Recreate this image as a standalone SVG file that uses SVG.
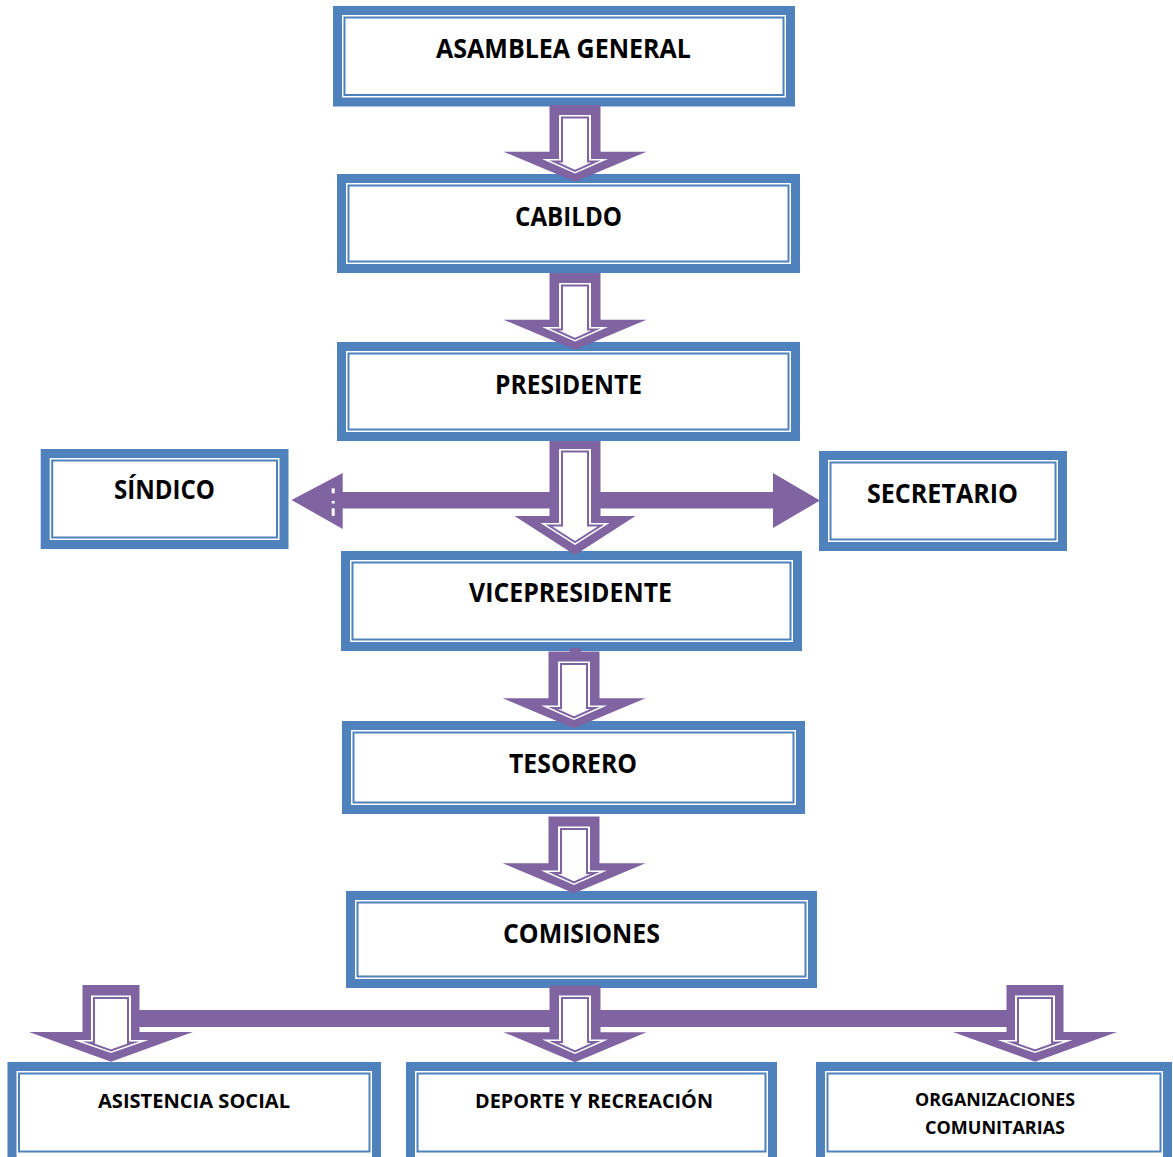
<svg xmlns="http://www.w3.org/2000/svg" xmlns:xlink="http://www.w3.org/1999/xlink" width="1173" height="1157" viewBox="0 0 1173 1157">
<style>
.ob{fill:#fff;stroke:#4F81BD;stroke-width:9}
.il{fill:none;stroke:#4F81BD;stroke-width:2}
.ap{fill:#8064A2}
.aw{fill:#fff}
.al{fill:#fff;stroke:#8064A2;stroke-width:2;stroke-miterlimit:10}
.t{font-family:"Open Sans","Liberation Sans",sans-serif;font-weight:700;fill:#000}
.big{font-size:26.5px}
.sm{font-size:19.5px}
.xs{font-size:18.5px}
</style>
<defs>
<g id="arrA">
<path class="ap" d="M-25.5,0 H25.5 V46.7 H71.5 L0,76.7 L-71.5,46.7 H-25.5 Z"/>
<path class="aw" d="M-16,10 H16 V54 H33 L0,68.5 L-33,54 H-16 Z"/>
<path class="al" d="M-13,12.5 H13 V56.5 H21 L0,65.8 L-21,56.5 H-13 Z"/>
</g>
<g id="arrB">
<path class="ap" d="M-25.5,0 H25.5 V75 H60.5 L0,114 L-60.5,75 H-25.5 Z"/>
<path class="aw" d="M-16,8 H16 V82 H34.5 L0,104 L-34.5,82 H-16 Z"/>
<path class="al" d="M-13,10.5 H13 V84.5 H26 L0,101 L-26,84.5 H-13 Z"/>
</g>
<g id="arrC">
<path class="ap" d="M-28.5,0 H28.5 V47 H82 L0,76.7 L-82,47 H-28.5 Z"/>
<path class="aw" d="M-20,10.5 H20 V55 H37.5 L0,68 L-37.5,55 H-20 Z"/>
<path class="al" d="M-17,13 H17 V57.5 H22.6 L0,65.4 L-22.6,57.5 H-17 Z"/>
</g>
</defs>
<rect width="1173" height="1157" fill="#fff"/>

<g id="asamblea">
<rect class="ob" x="337.5" y="10.5" width="453" height="91.5"/>
<rect class="il" x="344.5" y="17.5" width="439" height="77.5"/>
<text class="t big" x="436" y="57.5" textLength="255" lengthAdjust="spacingAndGlyphs">ASAMBLEA GENERAL</text>
</g>
<g id="cabildo">
<rect class="ob" x="341.5" y="178.5" width="454" height="90"/>
<rect class="il" x="348.5" y="185.5" width="440" height="76"/>
<text class="t big" x="515" y="226" textLength="107" lengthAdjust="spacingAndGlyphs">CABILDO</text>
</g>
<g id="presidente">
<rect class="ob" x="341.5" y="346.5" width="454" height="90"/>
<rect class="il" x="348.5" y="353.5" width="440" height="76"/>
<text class="t big" x="495" y="394" textLength="147" lengthAdjust="spacingAndGlyphs">PRESIDENTE</text>
</g>
<g id="sindico">
<rect class="ob" x="45.2" y="453.5" width="238.8" height="91"/>
<rect class="il" x="52.2" y="460.5" width="224.8" height="77"/>
<text class="t big" x="114" y="499" textLength="101" lengthAdjust="spacingAndGlyphs">SÍNDICO</text>
</g>
<g id="secretario">
<rect class="ob" x="823.5" y="455.5" width="239" height="91"/>
<rect class="il" x="830.5" y="462.5" width="225" height="77"/>
<text class="t big" x="867" y="503" textLength="151" lengthAdjust="spacingAndGlyphs">SECRETARIO</text>
</g>
<g id="vicepresidente">
<rect class="ob" x="345.5" y="555.5" width="452" height="91"/>
<rect class="il" x="352.5" y="562.5" width="438" height="77"/>
<text class="t big" x="469" y="602" textLength="203" lengthAdjust="spacingAndGlyphs">VICEPRESIDENTE</text>
</g>
<g id="tesorero">
<rect class="ob" x="346.5" y="725.5" width="454" height="84"/>
<rect class="il" x="353.5" y="732.5" width="440" height="70"/>
<text class="t big" x="509" y="772.5" textLength="128" lengthAdjust="spacingAndGlyphs">TESORERO</text>
</g>
<g id="comisiones">
<rect class="ob" x="350.5" y="895.5" width="462" height="88"/>
<rect class="il" x="357.5" y="902.5" width="448" height="74"/>
<text class="t big" x="503" y="943" textLength="157" lengthAdjust="spacingAndGlyphs">COMISIONES</text>
</g>
<g id="asistencia">
<rect class="ob" x="12" y="1066.5" width="364.5" height="95"/>
<rect class="il" x="19" y="1073.5" width="350.5" height="78"/>
<text class="t sm" x="98" y="1108.3" textLength="192" lengthAdjust="spacingAndGlyphs">ASISTENCIA SOCIAL</text>
</g>
<g id="deporte">
<rect class="ob" x="410.5" y="1066.5" width="362" height="95"/>
<rect class="il" x="417.5" y="1073.5" width="348" height="78"/>
<text class="t sm" x="475" y="1107.7" textLength="238" lengthAdjust="spacingAndGlyphs">DEPORTE Y RECREACIÓN</text>
</g>
<g id="organizaciones">
<rect class="ob" x="820.5" y="1066.5" width="347" height="95"/>
<rect class="il" x="827.5" y="1073.5" width="333" height="78"/>
<text class="t xs" x="915" y="1106" textLength="160" lengthAdjust="spacingAndGlyphs">ORGANIZACIONES</text>
<text class="t xs" x="925" y="1134.3" textLength="140" lengthAdjust="spacingAndGlyphs">COMUNITARIAS</text>
</g>

<g id="connectors">
<path class="ap" d="M291.5,500 L342.7,473 V492 H773 V473 L820,500.5 L773,528 V508.5 H342.7 V529 Z"/>
<rect class="aw" x="331.7" y="488.3" width="3" height="5"/>
<rect class="aw" x="331.7" y="501" width="3" height="2.5"/>
<rect class="aw" x="331.7" y="508.3" width="3" height="7.5"/>
<rect class="ap" x="130" y="1010" width="885" height="17"/>
<rect class="ap" x="570" y="648" width="11" height="5"/>
<use xlink:href="#arrA" transform="translate(575,105)"/>
<use xlink:href="#arrA" transform="translate(575,273)"/>
<use xlink:href="#arrB" transform="translate(575,441)"/>
<use xlink:href="#arrA" transform="translate(574,651.5)"/>
<use xlink:href="#arrA" transform="translate(574,816.5)"/>
<use xlink:href="#arrC" transform="translate(111,985)"/>
<use xlink:href="#arrA" transform="translate(575,985.5)"/>
<use xlink:href="#arrC" transform="translate(1035,985)"/>
</g>
</svg>
